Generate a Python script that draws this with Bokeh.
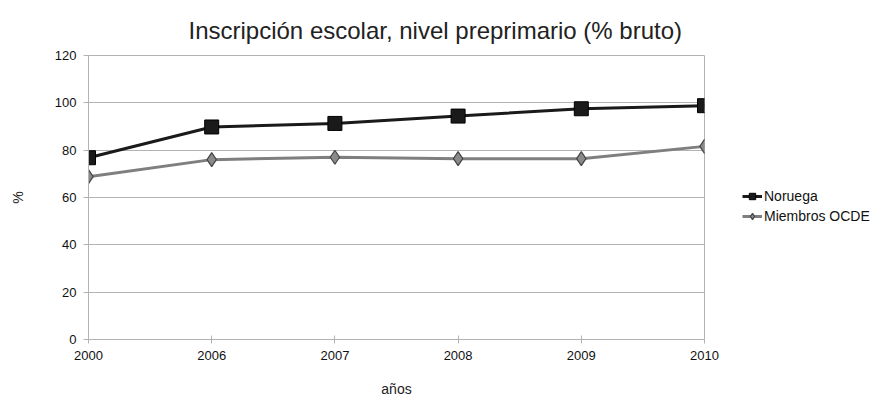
from bokeh.plotting import figure
from bokeh.models import Range1d, FixedTicker, Legend, LegendItem
from bokeh.embed import file_html
from bokeh.resources import INLINE

years = ["2000", "2006", "2007", "2008", "2009", "2010"]
noruega = [76.8, 89.8, 91.3, 94.4, 97.5, 98.8]
ocde = [68.8, 76.0, 77.0, 76.4, 76.4, 81.6]
y_ticks = [0, 20, 40, 60, 80, 100, 120]

xs = list(range(len(years)))
FONT = "Liberation Sans"

p = figure(width=880, height=395, output_backend="svg", toolbar_location=None,
           x_range=Range1d(0, len(years) - 1), y_range=Range1d(0, 120),
           frame_width=616, frame_height=284,
           min_border_left=88, min_border_right=176, min_border_top=55, min_border_bottom=56)

p.title.text = "Inscripción escolar, nivel preprimario (% bruto)"
p.title.align = "left"
p.title.offset = 100
p.title.text_font = FONT
p.title.text_font_size = "24px"
p.title.text_font_style = "normal"
p.title.text_color = "#222222"
p.title.standoff = 20
p.title.vertical_align = "top"

p.outline_line_color = "#b3b3b3"
p.background_fill_color = "white"
p.border_fill_color = "white"

p.xaxis.ticker = FixedTicker(ticks=xs)
p.xaxis.major_label_overrides = {i: y for i, y in enumerate(years)}
p.yaxis.ticker = FixedTicker(ticks=y_ticks)
p.xgrid.visible = False
p.ygrid.grid_line_color = "#b3b3b3"
p.ygrid.grid_line_width = 1

for ax in (p.xaxis, p.yaxis):
    ax.axis_line_color = "#b3b3b3"
    ax.major_tick_line_color = "#b3b3b3"
    ax.minor_tick_line_color = None
    ax.major_label_text_font = FONT
    ax.major_label_text_font_size = "13px"
    ax.major_label_text_color = "#111111"
    ax.axis_label_text_font = FONT
    ax.axis_label_text_font_size = "14px"
    ax.axis_label_text_font_style = "normal"
    ax.axis_label_text_color = "#222222"

p.xaxis.major_tick_in = 4
p.xaxis.major_tick_out = 4
p.xaxis.major_label_standoff = 7
p.yaxis.major_tick_in = 0
p.yaxis.major_tick_out = 5
p.yaxis.major_label_standoff = 7
p.xaxis.axis_label = "años"
p.xaxis.axis_label_standoff = 18
p.yaxis.axis_label = "%"
p.yaxis.axis_label_standoff = 26

l1 = p.line(xs, noruega, line_color="#1a1a1a", line_width=3)
m1 = p.scatter(xs, noruega, marker="square", size=14, fill_color="#1a1a1a", line_color="#000000")
l2 = p.line(xs, ocde, line_color="#7f7f7f", line_width=3)
m2 = p.scatter(xs, ocde, marker="diamond", size=14, fill_color="#8a8a8a", line_color="#444444", line_width=1.2)

legend = Legend(items=[LegendItem(label="Noruega", renderers=[l1, m1]),
                       LegendItem(label="Miembros OCDE", renderers=[l2, m2])])
legend.border_line_color = None
legend.background_fill_alpha = 0
legend.label_text_font = FONT
legend.label_text_font_size = "14px"
legend.label_text_color = "#111111"
legend.glyph_width = 20
legend.glyph_height = 16
legend.spacing = 4
legend.padding = 0
legend.margin = 0
legend.label_standoff = 2
legend.label_height = 16
legend.location = (38, 115)
p.add_layout(legend, "right")

open("out.html", "w").write(file_html(p, INLINE))
